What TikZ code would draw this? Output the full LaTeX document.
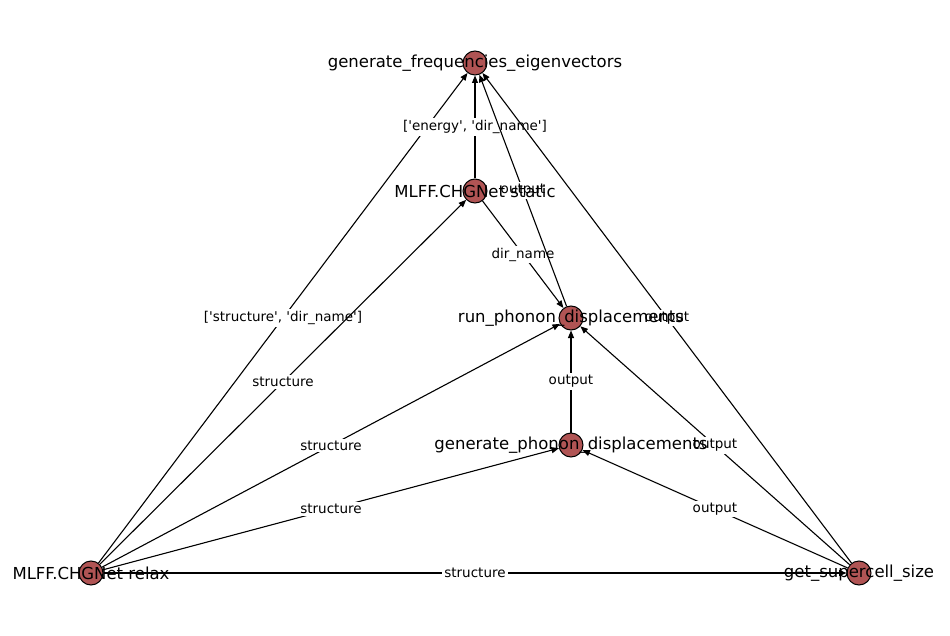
\documentclass[tikz,border=0pt]{standalone}
\usepackage{fontspec}
\newfontfamily\djv{DejaVu Sans}
\usetikzlibrary{arrows.meta}
\definecolor{nodered}{RGB}{176,84,84}
\begin{document}
\begin{tikzpicture}[x=1pt,y=-1pt,
  dot/.style={circle,draw=black,line width=1pt,fill=nodered,minimum size=24pt,inner sep=0pt},
  nlabel/.style={font=\djv\fontsize{16.5}{18}\selectfont,inner sep=0pt},
  elabel/.style={font=\djv\fontsize{13.5}{15}\selectfont,fill=white,inner sep=2pt},
  edge/.style={line width=1.1pt,-{Triangle[length=7.5pt,width=6pt]}}]
\useasboundingbox (0,0) rectangle (950,636);
\node[dot] (gfe) at (475,63) {};
\node[dot] (st) at (475,191) {};
\node[dot] (rpd) at (571,318) {};
\node[dot] (gpd) at (571,445) {};
\node[dot] (rel) at (91,573) {};
\node[dot] (gss) at (859,573) {};
\draw[edge] (rel) -- node[elabel]{['structure', 'dir\_name']} (gfe);
\draw[edge] (rel) -- node[elabel]{structure} (st);
\draw[edge] (rel) -- node[elabel]{structure} (rpd);
\draw[edge] (rel) -- node[elabel]{structure} (gpd);
\draw[edge] (rel) -- node[elabel]{structure} (gss);
\draw[edge] (st) -- node[elabel]{['energy', 'dir\_name']} (gfe);
\draw[edge] (st) -- node[elabel]{dir\_name} (rpd);
\draw[edge] (rpd) -- node[elabel]{output} (gfe);
\draw[edge] (gpd) -- node[elabel]{output} (rpd);
\draw[edge] (gss) -- node[elabel]{output} (gfe);
\draw[edge] (gss) -- node[elabel]{output} (rpd);
\draw[edge] (gss) -- node[elabel]{output} (gpd);
\node[nlabel] (tgfe) at (gfe) {generate\_frequencies\_eigenvectors};
\node[nlabel] (tst) at (st) {MLFF.CHGNet static};
\node[nlabel] (trpd) at (rpd) {run\_phonon\_displacements};
\node[nlabel] (tgpd) at (gpd) {generate\_phonon\_displacements};
\node[nlabel] (trel) at (rel) {MLFF.CHGNet relax};
\node[nlabel] (tgss) at (gss) {get\_supercell\_size};
\end{tikzpicture}
\end{document}
